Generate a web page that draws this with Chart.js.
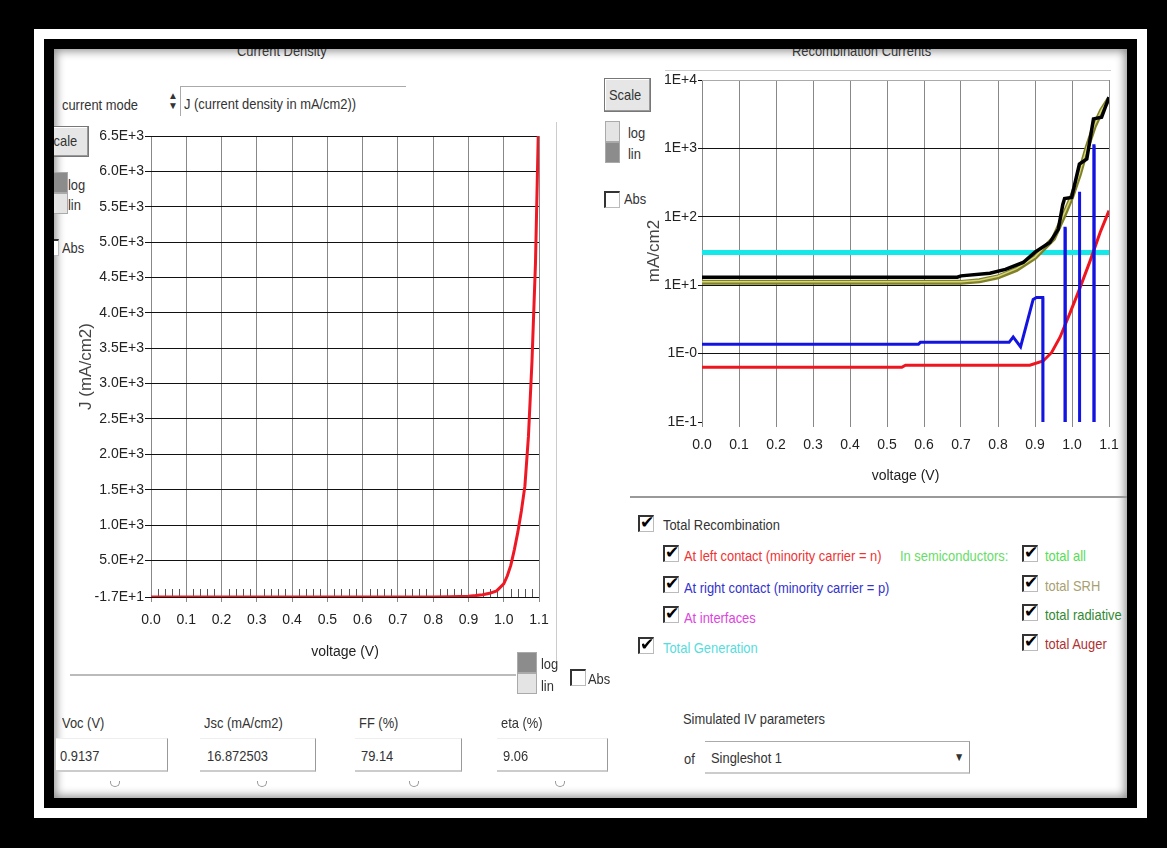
<!DOCTYPE html>
<html>
<head>
<meta charset="utf-8">
<script src="https://cdn.jsdelivr.net/npm/chart.js@4.4.1/dist/chart.umd.min.js"></script>
<style>
  html, body { margin: 0; padding: 0; }
  body { width: 1167px; height: 848px; background: #000; position: relative; overflow: hidden;
         font-family: 'Liberation Sans Narrow', 'Arial Narrow', 'Liberation Sans', sans-serif; font-size: 15px; color: #333; }
  #ring  { position: absolute; left: 34px; top: 29px; width: 1113px; height: 789px; background: #fff; }
  #ring2 { position: absolute; left: 44px; top: 39px; width: 1093px; height: 769px; background: #000; }
  #panel { position: absolute; left: 54px; top: 49px; width: 1073px; height: 749px; background: #fff;
           box-shadow: inset 0 0 10px 2px rgba(0,0,0,0.45); }
  #content { position: absolute; left: 0; top: 0; width: 1167px; height: 848px;
             clip-path: inset(49px 40px 50px 54px); }
  /* narrow-looking text: no condensed face is installed, so squeeze it */
  .t { position: absolute; white-space: nowrap; line-height: 15px; transform: scaleX(0.86); transform-origin: 0 0; }
  .box { position: absolute; background: #fff; border-right: 1px solid #999; border-bottom: 2px solid #ccc; border-top: 1px solid #eee; }
  .btn { position: absolute; background: #e6e6e6; border: 1px solid #777; box-shadow: inset -1px -1px 0 #999, inset 1px 1px 0 #fff; }
  .cb { position: absolute; width: 13px; height: 14px; background: #fff;
        border-top: 2px solid #333; border-left: 2px solid #333; border-right: 1px solid #bbb; border-bottom: 1px solid #bbb; }
  .cb.on::after { content: '\2714'; position: absolute; left: 0px; top: -5px; font: bold 17px 'DejaVu Sans', sans-serif; color: #000; }
  .sw { position: absolute; width: 13px; height: 19px; border: 1px solid #aaa; }
  .dark { background: #8c8c8c; }
  .light { background: #e4e4e4; }
  .line { position: absolute; background: #bbb; }
  .cup { position: absolute; width: 8px; height: 5px; border: 1px solid #999; border-top: none; border-radius: 0 0 5px 5px; }
  .chart { position: absolute; }
</style>
</head>
<body>
<div id="ring"></div>
<div id="ring2"></div>
<div id="panel"></div>
<div id="content">
  <!-- left panel -->
  <div class="t" style="left:237px; top:43px;">Current Density</div>
  <div class="t" style="left:62px; top:97px;">current mode</div>
  <div class="t" style="left:168px; top:91px; font-size:10px; line-height:10px; transform:none;">&#9650;<br>&#9660;</div>
  <div class="line" style="left:180px; top:86px; width:226px; height:1px; background:#aaa;"></div>
  <div class="line" style="left:180px; top:86px; width:1px; height:30px; background:#aaa;"></div>
  <div class="t" style="left:184px; top:96px;">J (current density in mA/cm2))</div>

  <div class="btn" style="left:30px; top:126px; width:57px; height:29px;"></div>
  <div class="t" style="left:45px; top:133px;">Scale</div>
  <div class="sw dark" style="left:53px; top:172px;"></div>
  <div class="sw light" style="left:53px; top:193px;"></div>
  <div class="t" style="left:68px; top:177px;">log</div>
  <div class="t" style="left:68px; top:197px;">lin</div>
  <div class="cb" style="left:43px; top:239px;"></div>
  <div class="t" style="left:62px; top:240px;">Abs</div>

  <div class="chart" style="left:60px; top:125px; width:500px; height:550px;"><canvas id="jv" width="500" height="550"></canvas></div>

  <div class="line" style="left:556px; top:122px; width:1px; height:540px; background:#ccc;"></div>
  <div class="line" style="left:70px; top:674px; width:446px; height:2px; background:#bbb;"></div>

  <div class="sw dark" style="left:517px; top:652px; width:18px;"></div>
  <div class="sw light" style="left:517px; top:673px; width:18px;"></div>
  <div class="t" style="left:541px; top:656px;">log</div>
  <div class="t" style="left:541px; top:678px;">lin</div>
  <div class="cb" style="left:570px; top:669px;"></div>
  <div class="t" style="left:588px; top:671px;">Abs</div>

  <!-- bottom parameters -->
  <div class="t" style="left:62px; top:715px;">Voc (V)</div>
  <div class="box" style="left:56px; top:738px; width:111px; height:31px;"></div>
  <div class="t" style="left:60px; top:748px;">0.9137</div>
  <div class="cup" style="left:110px; top:781px;"></div>

  <div class="t" style="left:204px; top:715px;">Jsc (mA/cm2)</div>
  <div class="box" style="left:200px; top:738px; width:115px; height:31px;"></div>
  <div class="t" style="left:207px; top:748px;">16.872503</div>
  <div class="cup" style="left:257px; top:781px;"></div>

  <div class="t" style="left:359px; top:715px;">FF (%)</div>
  <div class="box" style="left:355px; top:738px; width:106px; height:31px;"></div>
  <div class="t" style="left:361px; top:748px;">79.14</div>
  <div class="cup" style="left:409px; top:781px;"></div>

  <div class="t" style="left:501px; top:715px;">eta (%)</div>
  <div class="box" style="left:497px; top:738px; width:110px; height:31px;"></div>
  <div class="t" style="left:503px; top:748px;">9.06</div>
  <div class="cup" style="left:555px; top:781px;"></div>

  <div class="t" style="left:683px; top:711px;">Simulated IV parameters</div>
  <div class="t" style="left:684px; top:751px;">of</div>
  <div class="box" style="left:705px; top:741px; width:264px; height:30px; border-top:1px solid #aaa;"></div>
  <div class="t" style="left:711px; top:750px;">Singleshot 1</div>
  <div class="t" style="left:954px; top:750px; font-size:12px;">&#9660;</div>

  <!-- right panel -->
  <div class="t" style="left:792px; top:43px;">Recombination Currents</div>
  <div class="line" style="left:665px; top:70px; width:446px; height:1px; background:#ccc;"></div>
  <div class="btn" style="left:604px; top:78px; width:45px; height:32px;"></div>
  <div class="t" style="left:609px; top:87px;">Scale</div>
  <div class="sw light" style="left:605px; top:121px;"></div>
  <div class="sw dark" style="left:605px; top:142px;"></div>
  <div class="t" style="left:628px; top:125px;">log</div>
  <div class="t" style="left:628px; top:146px;">lin</div>
  <div class="cb" style="left:604px; top:191px;"></div>
  <div class="t" style="left:624px; top:191px;">Abs</div>

  <div class="chart" style="left:630px; top:65px; width:500px; height:430px;"><canvas id="rc" width="500" height="430"></canvas></div>

  <div class="line" style="left:630px; top:496px; width:497px; height:2px; background:#999;"></div>

  <!-- legend -->
  <div class="cb on" style="left:638px; top:515px;"></div>
  <div class="t" style="left:663px; top:517px;">Total Recombination</div>
  <div class="cb on" style="left:663px; top:545px;"></div>
  <div class="t" style="left:684px; top:548px; color:#ee3333;">At left contact (minority carrier = n)</div>
  <div class="t" style="left:900px; top:548px; color:#66dd66;">In semiconductors:</div>
  <div class="cb on" style="left:1022px; top:545px;"></div>
  <div class="t" style="left:1045px; top:548px; color:#55dd55;">total all</div>
  <div class="cb on" style="left:663px; top:576px;"></div>
  <div class="t" style="left:684px; top:580px; color:#3333cc;">At right contact (minority carrier = p)</div>
  <div class="cb on" style="left:1022px; top:575px;"></div>
  <div class="t" style="left:1045px; top:578px; color:#a8a070;">total SRH</div>
  <div class="cb on" style="left:663px; top:606px;"></div>
  <div class="t" style="left:684px; top:610px; color:#dd44dd;">At interfaces</div>
  <div class="cb on" style="left:1022px; top:604px;"></div>
  <div class="t" style="left:1045px; top:607px; color:#338833;">total radiative</div>
  <div class="cb on" style="left:638px; top:637px;"></div>
  <div class="t" style="left:663px; top:640px; color:#55dddd;">Total Generation</div>
  <div class="cb on" style="left:1022px; top:634px;"></div>
  <div class="t" style="left:1045px; top:636px; color:#b03030;">total Auger</div>
</div>

<script>
// ---- J-V curve (left) ----
const V_JV = [0.0, 0.1, 0.2, 0.3, 0.4, 0.5, 0.6, 0.7, 0.8, 0.85, 0.9, 0.92, 0.94, 0.96, 0.98, 1.0, 1.01, 1.02, 1.03, 1.04, 1.05, 1.06, 1.07, 1.08, 1.09, 1.1];
const J_DENSITY = [-16.87, -16.87, -16.86, -16.86, -16.85, -16.84, -16.8, -16.6, -15.5, -13, -5, 3, 15, 35, 70, 170, 280, 430, 650, 900, 1200, 1550, 2250, 3300, 4700, 7000];
const J_TICKS = [-16.87, 500, 1000, 1500, 2000, 2500, 3000, 3500, 4000, 4500, 5000, 5500, 6000, 6500];

// ---- recombination currents (right), mA/cm2 ----
const V_GEN = [0.0, 1.1];
const TOTAL_GEN = [30, 30];

const V_TOTAL = [0.0, 0.69, 0.7, 0.778, 0.82, 0.868, 0.9, 0.94, 0.963, 0.975, 0.98, 0.999, 1.02, 1.04, 1.058, 1.08, 1.1];
const TOTAL_RECOMB = [13.1, 13.1, 13.7, 15.0, 17.0, 21.5, 30.5, 42, 66, 150, 185, 192, 590, 700, 2700, 2850, 5600];

const V_SEMI = [0.0, 0.7, 0.75, 0.8, 0.85, 0.9, 0.95, 0.98, 1.0, 1.02, 1.04, 1.06, 1.08, 1.1];
const TOTAL_SRH = [11.0, 11.0, 11.6, 13.2, 17.0, 25.5, 48, 110, 200, 420, 1000, 2100, 3600, 5300];
const TOTAL_ALL = [11.2, 11.2, 11.8, 13.5, 17.5, 26, 50, 115, 205, 430, 1020, 2150, 3650, 5350];

const V_LEFT_CONTACT = [0.0, 0.54, 0.55, 0.886, 0.922, 0.945, 0.968, 0.995, 1.02, 1.049, 1.076, 1.1];
const LEFT_CONTACT = [0.63, 0.63, 0.675, 0.675, 0.78, 1.04, 1.75, 3.97, 8.7, 22.7, 59, 123];

// values of 0.01 are below the axis (negative current, drawn to the bottom)
const V_RIGHT_CONTACT = [0.0, 0.585, 0.59, 0.83, 0.841, 0.861, 0.895, 0.904, 0.921, 0.9215, 0.9805, 0.981, 0.9815, 0.982, 1.0195, 1.02, 1.0205, 1.021, 1.0585, 1.059, 1.0595, 1.06, 1.1];
const RIGHT_CONTACT = [1.37, 1.37, 1.46, 1.46, 1.75, 1.25, 6.2, 6.6, 6.6, 0.01, 0.01, 68, 68, 0.01, 0.01, 232, 232, 0.01, 0.01, 1090, 1090, 0.01, 0.01];

const RC_TICKS = [0.1, 1, 10, 100, 1000, 10000];
const RC_TICK_LABELS = ['1E-1', '1E-0', '1E+1', '1E+2', '1E+3', '1E+4'];
const MINOR_STEP = 0.02;

Chart.defaults.font.family = "'Liberation Sans', Arial, sans-serif";
Chart.defaults.font.size = 14;
Chart.defaults.color = '#222';
Chart.defaults.animation = false;

function pts(xs, ys) {
    return xs.map((x, i) => ({x: x, y: ys[i]}));
}

function fmtE(v) {
    return v.toExponential(1).replace('e', 'E');
}

// small ticks along the bottom of the J-V plot
const minorTicks = {
    id: 'minorTicks',
    beforeDatasetsDraw(chart) {
        const {ctx, chartArea, scales} = chart;
        ctx.save();
        ctx.strokeStyle = '#555';
        ctx.lineWidth = 1;
        for (let i = 1; i * MINOR_STEP < scales.x.max; i++) {
            if (i % 5 === 0) continue;
            const x = Math.round(scales.x.getPixelForValue(i * MINOR_STEP)) + 0.5;
            ctx.beginPath();
            ctx.moveTo(x, chartArea.bottom);
            ctx.lineTo(x, chartArea.bottom - 8);
            ctx.stroke();
        }
        ctx.restore();
    }
};

new Chart(document.getElementById('jv'), {
    type: 'line',
    data: {
        datasets: [{
            data: pts(V_JV, J_DENSITY),
            borderColor: 'rgb(238,24,36)',
            borderWidth: 3,
            pointRadius: 0,
            tension: 0
        }]
    },
    options: {
        responsive: false,
        layout: {padding: {top: 11, right: 21, left: 0, bottom: 0}},
        plugins: {legend: {display: false}, tooltip: {enabled: false}},
        scales: {
            x: {
                type: 'linear', min: 0, max: 1.1,
                afterFit: s => { s.height = 78; },
                border: {display: false},
                grid: {color: '#888', tickColor: '#888', tickLength: 5},
                ticks: {stepSize: 0.1, padding: 10, callback: v => v.toFixed(1)},
                title: {display: true, text: 'voltage (V)', padding: {top: 0, bottom: 14}}
            },
            y: {
                type: 'linear', min: J_TICKS[0], max: J_TICKS[J_TICKS.length - 1],
                afterFit: s => { s.width = 91; },
                afterBuildTicks: axis => { axis.ticks = J_TICKS.map(v => ({value: v})); },
                border: {display: false},
                grid: {color: '#111', tickColor: '#111', tickLength: 6},
                ticks: {padding: 1, callback: v => fmtE(v)},
                title: {display: true, text: 'J (mA/cm2)', color: '#444', font: {size: 17}, padding: {top: 16, bottom: 0}}
            }
        }
    },
    plugins: [minorTicks]
});

function series(xs, ys, color, width, order) {
    return {data: pts(xs, ys), borderColor: color, borderWidth: width, pointRadius: 0, tension: 0, order: order};
}

new Chart(document.getElementById('rc'), {
    type: 'line',
    data: {
        datasets: [
            series(V_GEN, TOTAL_GEN, 'rgb(20,232,232)', 5, 6),
            series(V_SEMI, TOTAL_SRH, 'rgb(128,128,40)', 5, 5),
            series(V_SEMI, TOTAL_ALL, 'rgb(214,214,120)', 1.5, 4),
            series(V_TOTAL, TOTAL_RECOMB, '#000', 3.5, 3),
            series(V_LEFT_CONTACT, LEFT_CONTACT, 'rgb(240,20,30)', 3, 2),
            series(V_RIGHT_CONTACT, RIGHT_CONTACT, 'rgb(20,20,225)', 3, 1)
        ]
    },
    options: {
        responsive: false,
        layout: {padding: {top: 15, right: 21, left: 0, bottom: 0}},
        plugins: {legend: {display: false}, tooltip: {enabled: false}},
        scales: {
            x: {
                type: 'linear', min: 0, max: 1.1,
                afterFit: s => { s.height = 73; },
                border: {display: false},
                grid: {color: '#888', tickColor: '#888', tickLength: 5},
                ticks: {stepSize: 0.1, padding: 10, callback: v => v.toFixed(1)},
                title: {display: true, text: 'voltage (V)', padding: {top: 0, bottom: 10}}
            },
            y: {
                type: 'logarithmic', min: RC_TICKS[0], max: RC_TICKS[RC_TICKS.length - 1],
                afterFit: s => { s.width = 72; },
                afterBuildTicks: axis => { axis.ticks = RC_TICKS.map(v => ({value: v})); },
                border: {display: false},
                grid: {
                    color: c => c.index === 0 ? 'rgba(0,0,0,0)' : (c.index === RC_TICKS.length - 1 ? '#aaa' : '#111'),
                    tickColor: '#111', tickLength: 4
                },
                ticks: {padding: 1, callback: (v, i) => RC_TICK_LABELS[i]},
                title: {display: true, text: 'mA/cm2', color: '#444', font: {size: 17}, padding: {top: 14, bottom: 0}}
            }
        }
    }
});
</script>
</body>
</html>
